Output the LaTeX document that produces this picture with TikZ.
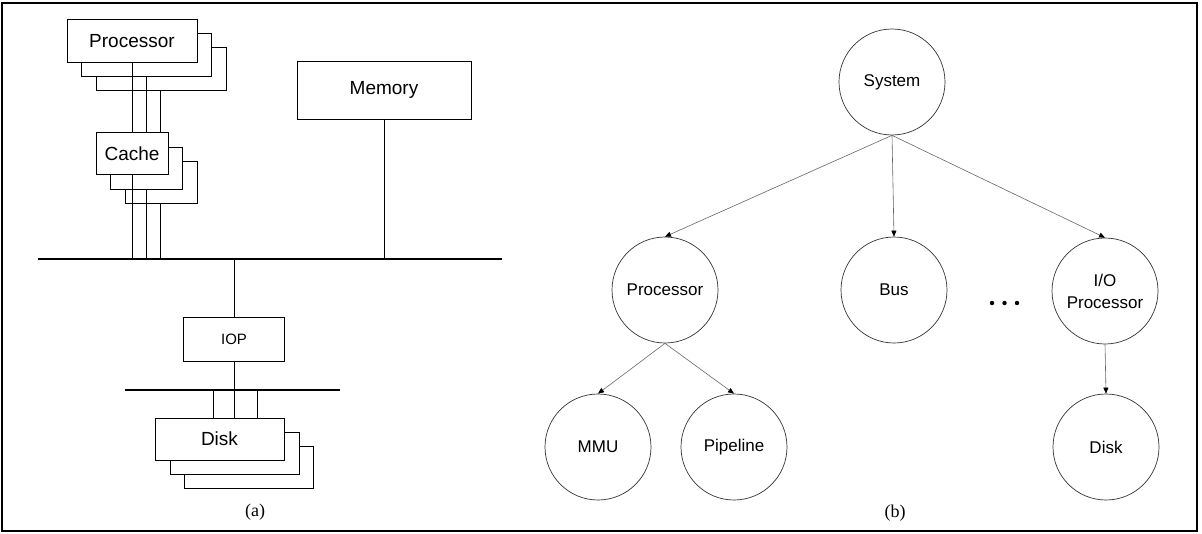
\documentclass[tikz,border=0pt]{standalone}
\usepackage{fontspec}
\setmainfont{Liberation Sans}
\newfontfamily\capfont{Liberation Serif}
\usetikzlibrary{arrows.meta}

\begin{document}
\begin{tikzpicture}[x=1pt,y=-1pt,
  box/.style={draw, fill=white, line width=0.9pt, inner sep=0pt,
    font=\fontsize{19}{22}\selectfont},
  pbox/.style={box, minimum width=130pt, minimum height=43pt},
  cbox/.style={box, minimum width=72pt, minimum height=42pt},
  dbox/.style={box, minimum width=129pt, minimum height=42pt},
  wire/.style={line width=0.9pt},
  busline/.style={line width=1.4pt},
  mod/.style={draw=black!80, circle, minimum size=106pt, inner sep=0pt,
    line width=0.7pt, font=\fontsize{17}{22}\selectfont, align=center},
  link/.style={draw=black!60, line width=0.6pt,
    -{Triangle[length=6pt,width=5pt,color=black]}},
  caption/.style={font=\capfont\fontsize{18}{20}\selectfont}]

\useasboundingbox (0,0) rectangle (1202,533);
\draw[line width=1.1pt] (2,3) rectangle (1197,531);

% ---------- (a) physical structure ----------
% buses
\coordinate (busL) at (38,259);
\coordinate (busR) at (502,259);
\coordinate (iobusL) at (125,390);
\coordinate (iobusR) at (340,390);
\draw[busline] (busL) -- (busR);
\draw[busline] (iobusL) -- (iobusR);

% stacked processors
\node[pbox] (p3) at (161,69) {};
\node[pbox] (p2) at (146,55) {};
\node[pbox] (p1) at (132,41) {Processor};

% stacked caches
\node[cbox] (c3) at (161,182) {};
\node[cbox] (c2) at (146.5,168) {};
\node[cbox] (c1) at (132,153.5) {Cache};

% processor/cache wires
\coordinate (l1) at (132,0);
\coordinate (l2) at (146,0);
\coordinate (l3) at (160,0);
\draw[wire] (p1.south -| l1) -- (c1.north -| l1);
\draw[wire] (p2.south -| l2) -- (c1.north -| l2);
\draw[wire] (p3.south -| l3) -- (c1.north -| l3);
\draw[wire] (c1.south -| l1) -- (busL -| l1);
\draw[wire] (c2.south -| l2) -- (busL -| l2);
\draw[wire] (c3.south -| l3) -- (busL -| l3);

% memory
\node[box, minimum width=174pt, minimum height=58pt] (mem) at (384,90) {Memory};
\draw[wire] (mem.south) -- (mem.south |- busL);

% I/O processor
\node[box, minimum width=101pt, minimum height=44pt,
  font=\fontsize{15}{18}\selectfont] (iop) at (234,339) {IOP};
\draw[wire] (iop.north) -- (iop.north |- busL);
\draw[wire] (iop.south) -- (iop.south |- iobusL);

% stacked disks
\node[dbox] (d3) at (248.5,467.5) {};
\node[dbox] (d2) at (234.5,453.5) {};
\node[dbox] (d1) at (219.5,439) {Disk};
\coordinate (k1) at (213,0);
\coordinate (k2) at (234,0);
\coordinate (k3) at (257,0);
\draw[wire] (iobusL -| k1) -- (d1.north -| k1);
\draw[wire] (iobusL -| k2) -- (d1.north -| k2);
\draw[wire] (iobusL -| k3) -- (d1.north -| k3);

\node[caption] (capa) at (255,512) {(a)};

% ---------- (b) hierarchy ----------
\node[mod] (sys)  at (892,82)   {System};
\node[mod] (proc) at (665,290)  {Processor};
\node[mod] (bus)  at (894,290)  {Bus};
\node[mod] (iopr) at (1105,291) {I/O\\Processor};
\node[mod] (mmu)  at (598,447)  {MMU};
\node[mod] (pipe) at (734,447)  {Pipeline};
\node[mod] (disk) at (1106,447) {Disk};

\draw[link] (sys.south) -- (proc.north);
\draw[link] (sys.south) -- (bus.north);
\draw[link] (sys.south) -- (iopr.north);
\draw[link] (proc.south) -- (mmu.north);
\draw[link] (proc.south) -- (pipe.north);
\draw[link] (iopr.south) -- (disk.north);

% ellipsis between Bus and I/O Processor
\fill (992,303) circle (2.2);
\fill (1004.5,303) circle (2.2);
\fill (1017,303) circle (2.2);

\node[caption] (capb) at (895,513) {(b)};
\end{tikzpicture}
\end{document}
